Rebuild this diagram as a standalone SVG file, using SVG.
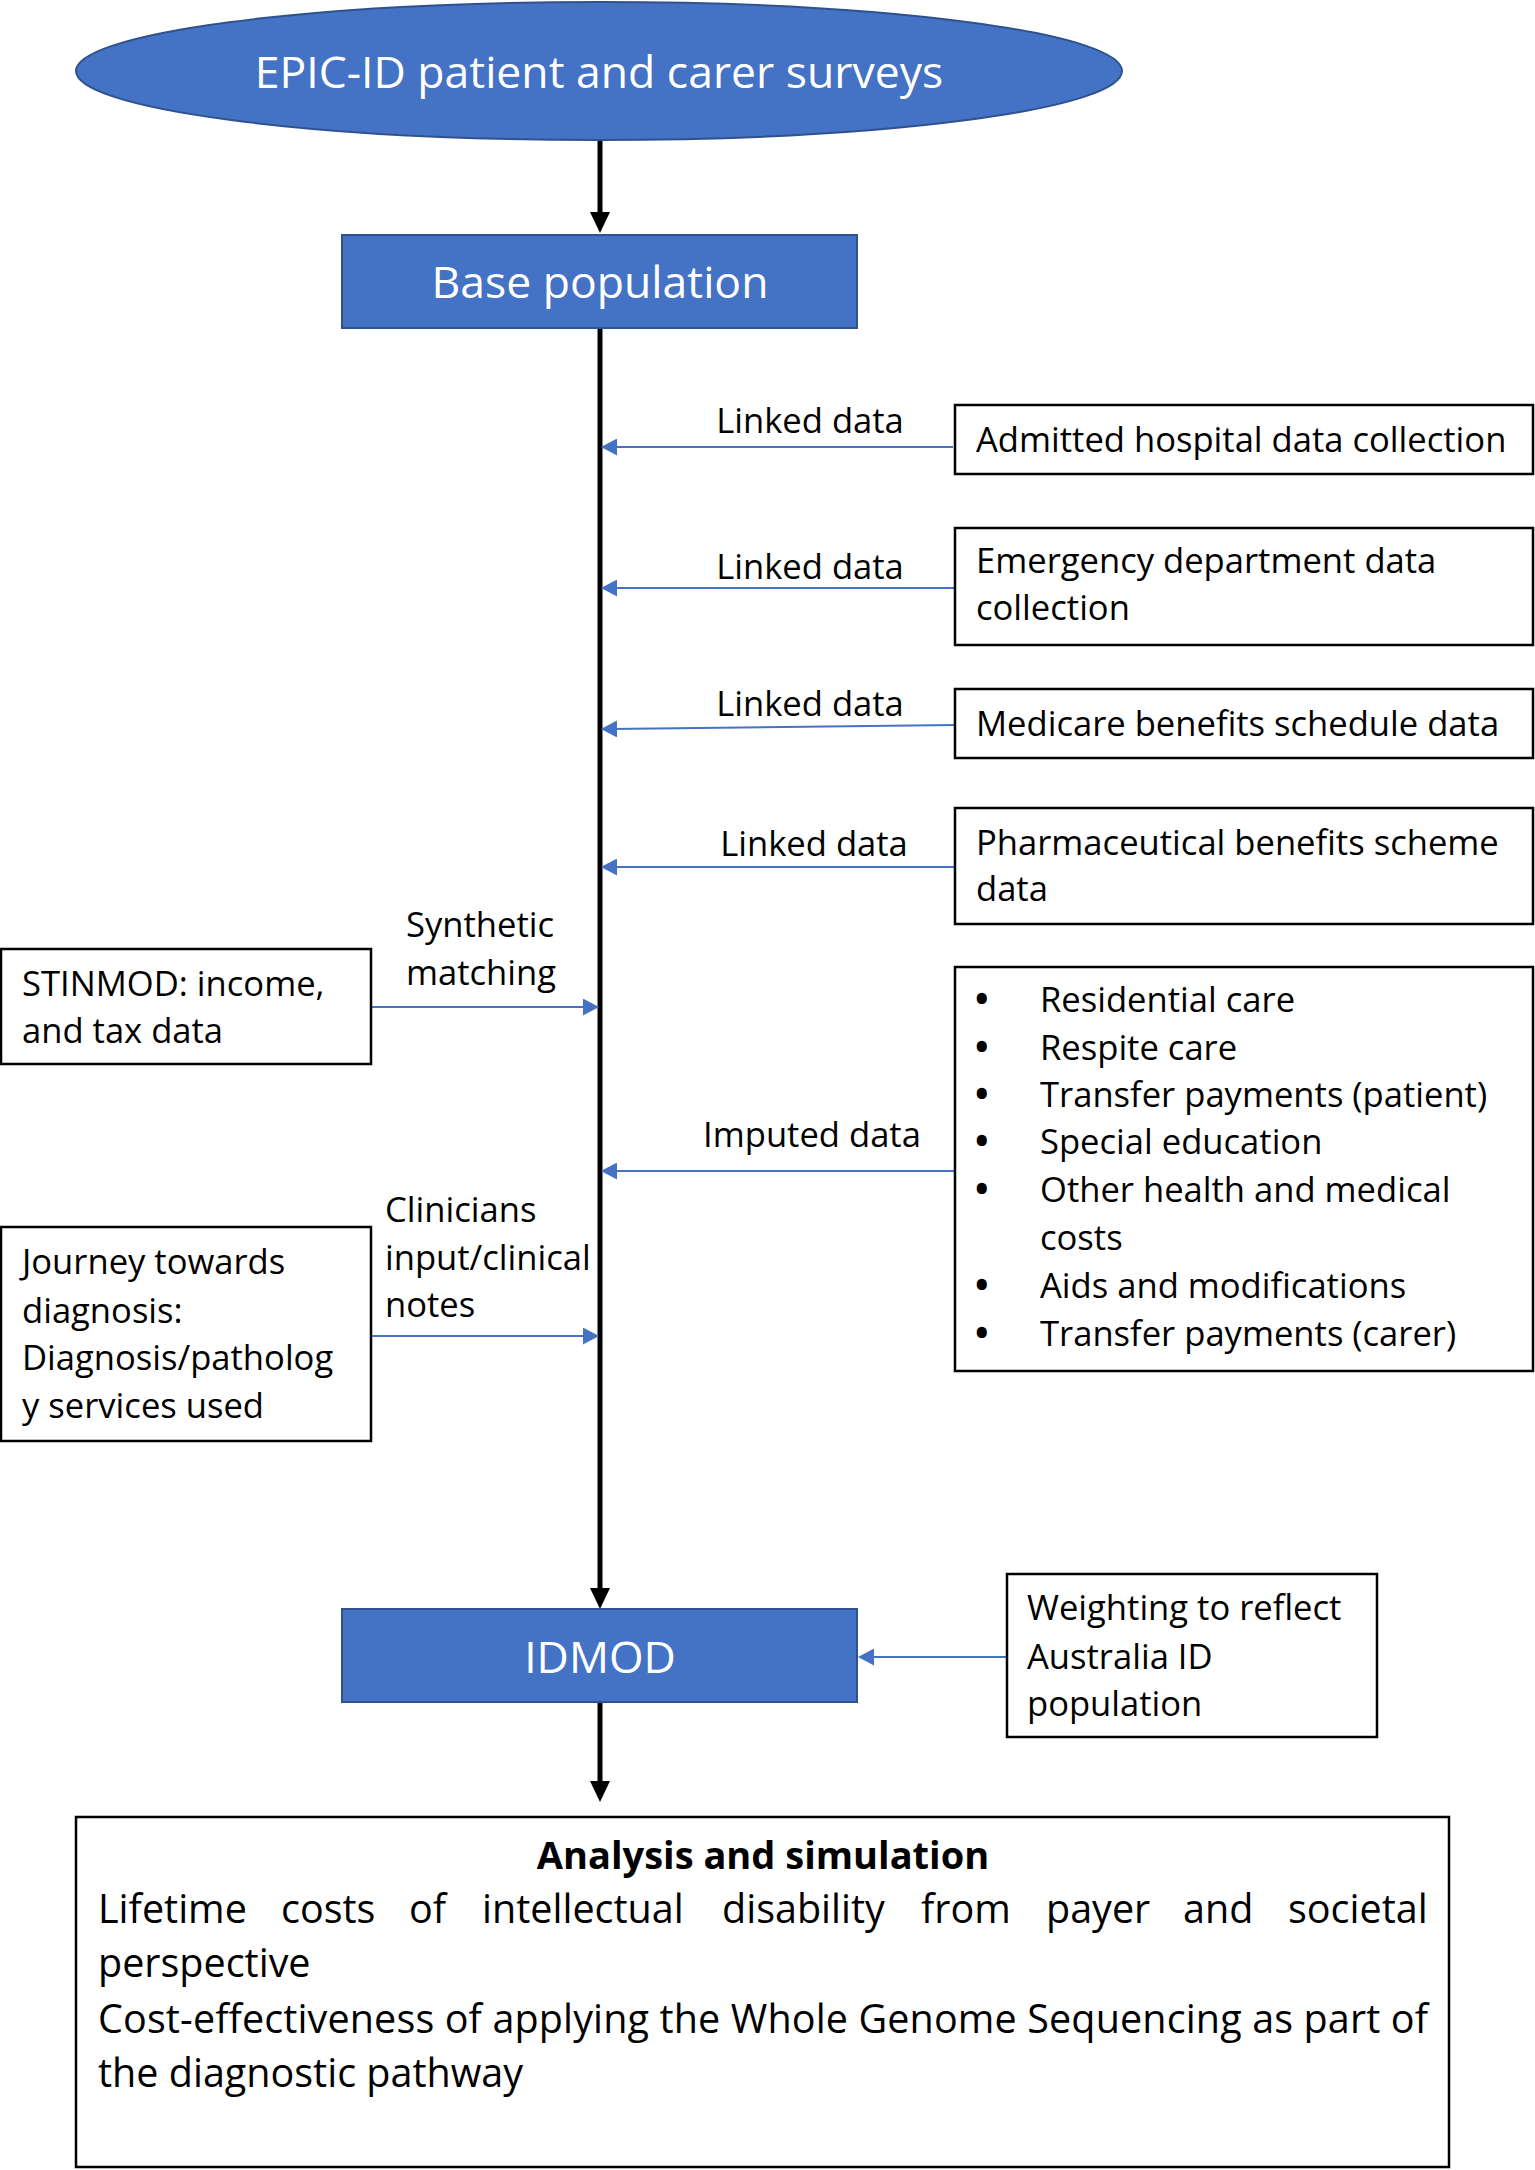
<svg xmlns="http://www.w3.org/2000/svg" width="1535" height="2170" viewBox="0 0 1535 2170">
<defs>
<style>
.t{font-family:"Open Sans","Noto Sans","DejaVu Sans",sans-serif;font-size:34.6px;fill:#000}
.b{font-family:"Open Sans","Noto Sans","DejaVu Sans",sans-serif;font-size:36px;font-weight:bold;fill:#000}
.h{font-family:"Open Sans","Noto Sans","DejaVu Sans",sans-serif;font-size:38px;font-weight:bold;fill:#000;text-anchor:middle}
.w{font-family:"Open Sans","Noto Sans","DejaVu Sans",sans-serif;font-size:44.5px;fill:#fff;text-anchor:middle}
.a{font-family:"Open Sans","Noto Sans","DejaVu Sans",sans-serif;font-size:39.5px;fill:#000}
.box{fill:#fff;stroke:#000;stroke-width:2.5}
.blue{fill:#4472C4;stroke:#2F528F;stroke-width:2}
.main{stroke:#000;stroke-width:5;fill:none}
.link{stroke:#4472C4;stroke-width:2;fill:none}
</style>
<marker id="ab" markerUnits="userSpaceOnUse" markerWidth="22" markerHeight="20" refX="6" refY="10" orient="auto" viewBox="0 0 22 20">
<path d="M0,0 L21,10 L0,20 z" fill="#000"/>
</marker>
<marker id="ah" markerUnits="userSpaceOnUse" markerWidth="17" markerHeight="17" refX="6" refY="8.5" orient="auto" viewBox="0 0 17 17">
<path d="M0,0 L16,8.5 L0,17 z" fill="#4472C4"/>
</marker>
</defs>
<rect width="1535" height="2170" fill="#fff"/>

<g id="connectors">
<line class="main" x1="600" y1="141" x2="600" y2="218" marker-end="url(#ab)"/>
<line class="main" x1="600" y1="328" x2="600" y2="1594" marker-end="url(#ab)"/>
<line class="main" x1="600" y1="1702" x2="600" y2="1787" marker-end="url(#ab)"/>
<line class="link" x1="953" y1="447" x2="611" y2="447" marker-end="url(#ah)"/>
<line class="link" x1="955" y1="588" x2="611" y2="588" marker-end="url(#ah)"/>
<line class="link" x1="955" y1="725" x2="611" y2="729" marker-end="url(#ah)"/>
<line class="link" x1="955" y1="867" x2="611" y2="867" marker-end="url(#ah)"/>
<line class="link" x1="371" y1="1007" x2="589" y2="1007" marker-end="url(#ah)"/>
<line class="link" x1="955" y1="1171" x2="611" y2="1171" marker-end="url(#ah)"/>
<line class="link" x1="371" y1="1336" x2="589" y2="1336" marker-end="url(#ah)"/>
<line class="link" x1="1007" y1="1657" x2="868" y2="1657" marker-end="url(#ah)"/>
<text class="t" x="810" y="433" text-anchor="middle">Linked data</text>
<text class="t" x="810" y="579" text-anchor="middle">Linked data</text>
<text class="t" x="810" y="716" text-anchor="middle">Linked data</text>
<text class="t" x="814" y="856" text-anchor="middle">Linked data</text>
<text class="t" x="812" y="1147" text-anchor="middle">Imputed data</text>
<text class="t" x="406" y="937">Synthetic</text>
<text class="t" x="406" y="985">matching</text>
<text class="t" x="385" y="1222">Clinicians</text>
<text class="t" x="385" y="1270">input/clinical</text>
<text class="t" x="385" y="1317">notes</text>
</g>

<g id="surveys">
<ellipse class="blue" cx="599" cy="71" rx="523" ry="69"/>
<text class="w" x="599" y="88">EPIC-ID patient and carer surveys</text>
</g>

<g id="base">
<rect class="blue" x="342" y="235" width="515" height="93"/>
<text class="w" x="600" y="298">Base population</text>
</g>

<g id="admitted">
<rect class="box" x="955" y="405" width="578" height="69"/>
<text class="t" x="976" y="452">Admitted hospital data collection</text>
</g>

<g id="emergency">
<rect class="box" x="955" y="528" width="578" height="117"/>
<text class="t" x="976" y="573">Emergency department data</text>
<text class="t" x="976" y="620">collection</text>
</g>

<g id="medicare">
<rect class="box" x="955" y="689" width="578" height="69"/>
<text class="t" x="976" y="736">Medicare benefits schedule data</text>
</g>

<g id="pharma">
<rect class="box" x="955" y="808" width="578" height="116"/>
<text class="t" x="976" y="855">Pharmaceutical benefits scheme</text>
<text class="t" x="976" y="901">data</text>
</g>

<g id="stinmod">
<rect class="box" x="1" y="949" width="370" height="115"/>
<text class="t" x="22" y="996">STINMOD: income,</text>
<text class="t" x="22" y="1043">and tax data</text>
</g>

<g id="imputed">
<rect class="box" x="955" y="967" width="578" height="404"/>
<text class="b" x="975" y="1012">•</text><text class="t" x="1040" y="1012">Residential care</text>
<text class="b" x="975" y="1060">•</text><text class="t" x="1040" y="1060">Respite care</text>
<text class="b" x="975" y="1107">•</text><text class="t" x="1040" y="1107">Transfer payments (patient)</text>
<text class="b" x="975" y="1154">•</text><text class="t" x="1040" y="1154">Special education</text>
<text class="b" x="975" y="1202">•</text><text class="t" x="1040" y="1202">Other health and medical</text>
<text class="t" x="1040" y="1250">costs</text>
<text class="b" x="975" y="1298">•</text><text class="t" x="1040" y="1298">Aids and modifications</text>
<text class="b" x="975" y="1346">•</text><text class="t" x="1040" y="1346">Transfer payments (carer)</text>
</g>

<g id="journey">
<rect class="box" x="1" y="1227" width="370" height="214"/>
<text class="t" x="22" y="1274">Journey towards</text>
<text class="t" x="22" y="1323">diagnosis:</text>
<text class="t" x="22" y="1370">Diagnosis/patholog</text>
<text class="t" x="22" y="1418">y services used</text>
</g>

<g id="idmod">
<rect class="blue" x="342" y="1609" width="515" height="93"/>
<text class="w" x="600" y="1673">IDMOD</text>
</g>

<g id="weighting">
<rect class="box" x="1007" y="1574" width="370" height="163"/>
<text class="t" x="1027" y="1620">Weighting to reflect</text>
<text class="t" x="1027" y="1669">Australia ID</text>
<text class="t" x="1027" y="1716">population</text>
</g>

<g id="analysis">
<rect class="box" x="76" y="1817" width="1373" height="350"/>
<text class="h" x="763" y="1869">Analysis and simulation</text>
<text class="a" y="1923"><tspan x="98">Lifetime</tspan><tspan x="281">costs</tspan><tspan x="409">of</tspan><tspan x="482">intellectual</tspan><tspan x="722">disability</tspan><tspan x="921">from</tspan><tspan x="1046">payer</tspan><tspan x="1183">and</tspan><tspan x="1288">societal</tspan></text>
<text class="a" x="98" y="1977">perspective</text>
<text class="a" x="98" y="2033" textLength="1330" lengthAdjust="spacing">Cost-effectiveness of applying the Whole Genome Sequencing as part of</text>
<text class="a" x="98" y="2087">the diagnostic pathway</text>
</g>
</svg>
